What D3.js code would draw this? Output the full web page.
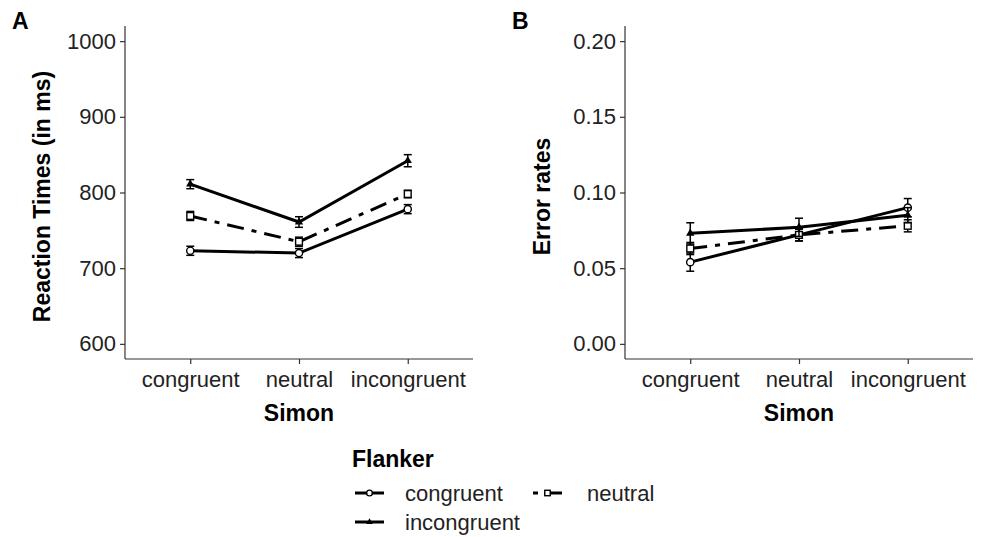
<!DOCTYPE html>
<html>
<head>
<meta charset="utf-8">
<script src="https://cdn.jsdelivr.net/npm/d3@7"></script>
<style>
  body { margin: 0; background: #fff; }
  text { font-family: "Liberation Sans", Arial, sans-serif; fill: #000; }
  .tick text { font-size: 22px; fill: #222; }
  .axis-title { font-size: 23px; font-weight: bold; }
</style>
</head>
<body>
<div id="chart"></div>
<script>
const width = 986,
  height = 537;

// DATA
const simon = ["congruent", "neutral", "incongruent"];
const flanker = ["congruent", "neutral", "incongruent"];

// reaction times (ms), per flanker level, across simon levels
const rtCongruent = [723, 720, 778];
const rtNeutral = [769, 735, 798];
const rtIncongruent = [811, 761, 842];
const rtError = [[6, 6, 6], [6, 6, 5], [6, 7, 8]];

// error rates
const erCongruent = [0.054, 0.072, 0.090];
const erNeutral = [0.063, 0.072, 0.078];
const erIncongruent = [0.073, 0.077, 0.085];
const erError = [[0.006, 0.004, 0.006], [0.004, 0.004, 0.004], [0.007, 0.006, 0.005]];

const rtTicks = [600, 700, 800, 900, 1000];
const erTicks = [0.0, 0.05, 0.1, 0.15, 0.2];

const lineStyles = { congruent: null, neutral: "17,8,5,8", incongruent: null };

const svg = d3.select("#chart").append("svg")
  .attr("width", width)
  .attr("height", height);

function panel(opts) {
  const { x0, x1, letter, title, values, errors, domain, ticks, fmt } = opts;
  const top = 26, bottom = 359;

  // discrete expand of 0.6 on each side
  const step = (x1 - x0) / (simon.length - 1 + 1.2);
  const xScale = d3.scalePoint()
    .domain(simon)
    .range([x0 + 0.6 * step, x1 - 0.6 * step]);

  const pad = (domain[1] - domain[0]) * 0.05;
  const yScale = d3.scaleLinear()
    .domain([domain[0] - pad, domain[1] + pad])
    .range([bottom, top]);

  const g = svg.append("g");

  const yAxis = g.append("g")
    .attr("transform", `translate(${x0},0)`)
    .call(d3.axisLeft(yScale).tickValues(ticks).tickFormat(fmt).tickSizeOuter(0).tickSize(5).tickPadding(4));
  const xAxis = g.append("g")
    .attr("transform", `translate(0,${bottom})`)
    .call(d3.axisBottom(xScale).tickSizeOuter(0).tickSize(5).tickPadding(4));
  [xAxis, yAxis].forEach(a => {
    a.select(".domain").attr("stroke", "#333").attr("stroke-width", 1.2);
    a.selectAll(".tick line").attr("stroke", "#333").attr("stroke-width", 1.2);
  });
  xAxis.select(".domain").attr("d", `M${x0},0H${x1}`);
  yAxis.select(".domain").attr("d", `M0,${bottom}V${top}`);
  xAxis.selectAll(".tick text").attr("dy", "0.85em");

  g.append("text").attr("class", "axis-title")
    .attr("x", (x0 + x1) / 2).attr("y", 421)
    .attr("text-anchor", "middle").text("Simon");
  g.append("text").attr("class", "axis-title")
    .attr("transform", `translate(${x0 - 75},${(top + bottom) / 2 + 4}) rotate(-90)`)
    .attr("text-anchor", "middle").text(title);
  g.append("text")
    .attr("x", x0 - 113).attr("y", 29)
    .style("font-size", "23px").style("font-weight", "bold")
    .text(letter);

  const line = d3.line().x((d, i) => xScale(simon[i])).y(d => yScale(d));

  flanker.forEach((f, k) => {
    g.append("path")
      .datum(values[k])
      .attr("d", line)
      .attr("fill", "none")
      .attr("stroke", "#000")
      .attr("stroke-width", 3)
      .attr("stroke-dasharray", lineStyles[f]);
  });

  flanker.forEach((f, k) => {
    values[k].forEach((v, i) => {
      const cx = xScale(simon[i]);
      const e = errors[k][i];
      const bar = g.append("g").attr("stroke", "#000").attr("stroke-width", 1.5);
      bar.append("line").attr("x1", cx).attr("x2", cx).attr("y1", yScale(v - e)).attr("y2", yScale(v + e));
      bar.append("line").attr("x1", cx - 4).attr("x2", cx + 4).attr("y1", yScale(v - e)).attr("y2", yScale(v - e));
      bar.append("line").attr("x1", cx - 4).attr("x2", cx + 4).attr("y1", yScale(v + e)).attr("y2", yScale(v + e));
      drawShape(g, f, cx, yScale(v), 1);
    });
  });
}

function drawShape(g, f, cx, cy, s) {
  if (f === "congruent") {
    g.append("circle").attr("cx", cx).attr("cy", cy).attr("r", 3.6 * s)
      .attr("fill", "#fff").attr("stroke", "#000").attr("stroke-width", 1.4);
  } else if (f === "neutral") {
    g.append("rect").attr("x", cx - 3.4 * s).attr("y", cy - 3.4 * s)
      .attr("width", 6.8 * s).attr("height", 6.8 * s)
      .attr("fill", "#fff").attr("stroke", "#000").attr("stroke-width", 1.4);
  } else {
    g.append("path")
      .attr("d", d3.symbol(d3.symbolTriangle, 30 * s * s)())
      .attr("transform", `translate(${cx},${cy})`)
      .attr("fill", "#000");
  }
}

panel({
  x0: 125, x1: 473, letter: "A", title: "Reaction Times (in ms)",
  values: [rtCongruent, rtNeutral, rtIncongruent], errors: rtError,
  domain: [600, 1000], ticks: rtTicks, fmt: d3.format("d")
});
panel({
  x0: 625, x1: 973, letter: "B", title: "Error rates",
  values: [erCongruent, erNeutral, erIncongruent], errors: erError,
  domain: [0, 0.2], ticks: erTicks, fmt: d3.format(".2f")
});

// LEGEND
const legend = svg.append("g");
legend.append("text").attr("x", 352).attr("y", 467)
  .style("font-size", "23px").style("font-weight", "bold").text("Flanker");

const legendPos = [
  { f: "congruent", x: 355, y: 493, tx: 405 },
  { f: "neutral", x: 533, y: 493, tx: 587 },
  { f: "incongruent", x: 355, y: 522, tx: 405 }
];
legendPos.forEach(p => {
  legend.append("line")
    .attr("x1", p.x).attr("x2", p.x + 29).attr("y1", p.y).attr("y2", p.y)
    .attr("stroke", "#000").attr("stroke-width", 3)
    .attr("stroke-dasharray", p.f === "neutral" ? "5,6,30" : null);
  drawShape(legend, p.f, p.x + 14.5, p.y, 0.8);
  legend.append("text").attr("x", p.tx).attr("y", p.y + 8)
    .style("font-size", "22px").style("fill", "#222").text(p.f);
});
</script>
</body>
</html>
